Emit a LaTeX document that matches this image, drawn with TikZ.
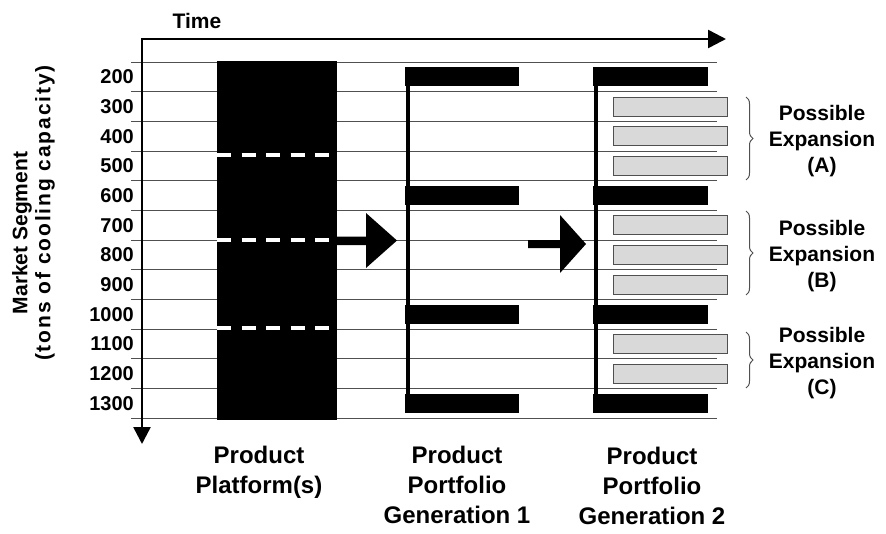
\documentclass[tikz,border=0pt]{standalone}
\usepackage{fontspec}
\setmainfont{Liberation Sans}
\usetikzlibrary{arrows.meta, decorations.pathreplacing}
\definecolor{lgrey}{RGB}{217,217,217}
\definecolor{dgrey}{RGB}{80,80,80}

\begin{document}
\begin{tikzpicture}[x=1pt, y=-1pt,
         % text
         seg/.style={font=\fontsize{20}{24}\selectfont\bfseries, anchor=east, inner sep=0pt},
         big/.style={font=\fontsize{24}{30}\selectfont\bfseries, align=center, anchor=base, inner sep=0pt},
         expl/.style={font=\fontsize{21}{26}\selectfont\bfseries, align=center, anchor=base, inner sep=0pt},
         side/.style={font=\fontsize{21}{26}\selectfont\bfseries, rotate=90, inner sep=0pt},
         % bars
         blackbar/.style={fill=black},
         greybar/.style={fill=lgrey, draw=dgrey, line width=1pt},
         gridline/.style={draw=dgrey, line width=1pt}]
   \useasboundingbox (0,0) rectangle (886,533);
   \begin{scope}
      \foreach \i in {0,...,12} {
         \draw [gridline] (131, 62+29.67*\i) -- (717, 62+29.67*\i);
      };
      \foreach \v [count=\i] in {200,300,...,1300} {
         \node [seg] (seg\v) at (134, 62+29.67*\i-14.83) {\v};
      };
      % platform
      \fill (217,61) rectangle (337,420);
      \foreach \y in {155, 240, 328} {
         \draw [white, line width=4pt, dash pattern=on 14pt off 10.5pt] (217,\y) -- (330,\y);
      };
      % generation 1
      \foreach \i in {1, 5, 9, 12} {
         \fill [blackbar] (405, 62+29.67*\i-24.33) rectangle (519, 62+29.67*\i-5.33);
      };
      \draw [line width=3.5pt] (408,67.5) -- (408,411);
      % generation 2
      \foreach \i in {1, 5, 9, 12} {
         \fill [blackbar] (593, 62+29.67*\i-24.33) rectangle (708, 62+29.67*\i-5.33);
      };
      \foreach \i in {2, 3, 4, 6, 7, 8, 10, 11} {
         \draw [greybar] (613, 62+29.67*\i-24.33) rectangle (727, 62+29.67*\i-5.33);
      };
      \draw [line width=3.5pt] (596,67.5) -- (596,411);
      % block arrows
      \fill (337,236.5) -- (366,236.5) -- (366,213) -- (397,240.5) -- (366,268) -- (366,245) -- (337,245) -- cycle;
      \fill (528,240) -- (560,240) -- (560,215) -- (586,244) -- (560,273) -- (560,248) -- (528,248) -- cycle;
      % axes
      \coordinate (corner) at (142,39);
      \coordinate (tend) at (726,39);
      \coordinate (mend) at (142,444);
      \draw [line width=2.5pt, line join=miter, {Triangle[length=17pt,width=17pt]}-{Triangle[length=18pt,width=18pt]}] (mend) -- (corner) -- (tend);
      \node [expl] (time) at (197,28) {Time};
      \node [side] (mseg) at (22,233) {Market Segment};
      \node [side] (tons) at (45,213) {\addfontfeature{LetterSpace=9}(tons of cooling capacity)};
      % labels
      \node [big] (plat) at (259,493) {Product\\Platform(s)};
      \node [big] (gen1) at (457,523) {Product\\Portfolio\\Generation 1};
      \node [big] (gen2) at (652,524) {Product\\Portfolio\\Generation 2};
      \foreach \n/\a/\b/\y in {A/97/180/172, B/211/295/287, C/332/388/394} {
         \draw [dgrey, line width=1pt, decorate, decoration={brace, amplitude=7pt}] (746,\a) -- (746,\b);
         \node [expl] (exp\n) at (822,\y) {Possible\\Expansion\\(\n)};
      };
   \end{scope}
\end{tikzpicture}
\end{document}
